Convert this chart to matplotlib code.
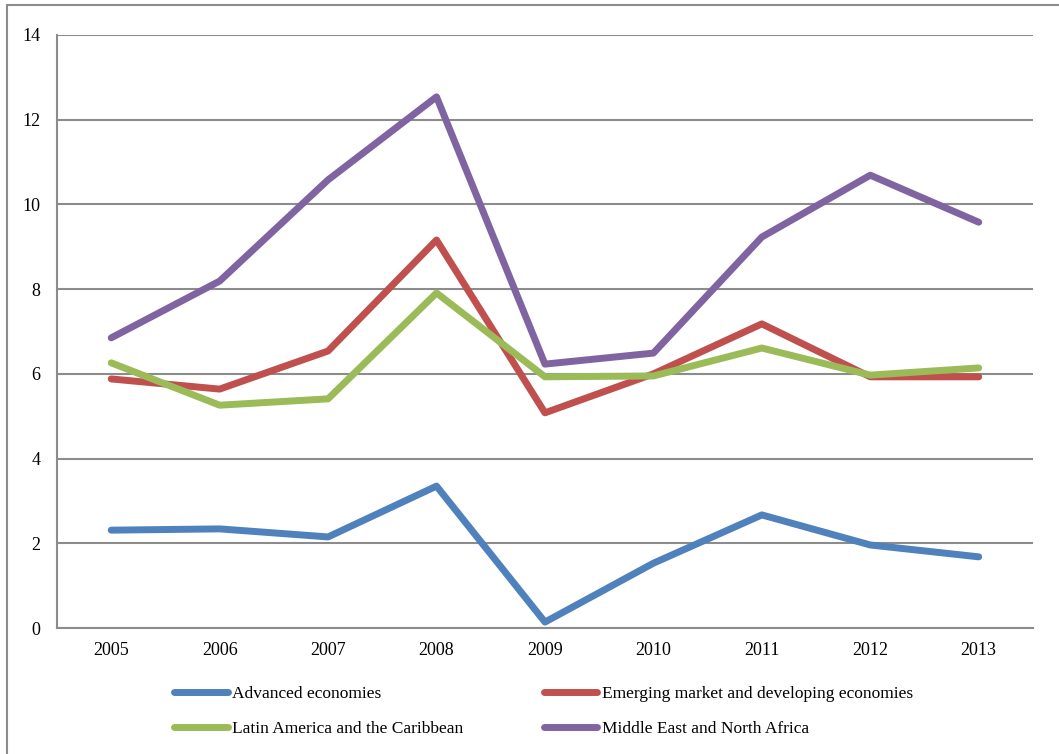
import matplotlib
matplotlib.use("Agg")
import matplotlib.pyplot as plt
import matplotlib.patches as mp
import numpy as np

years = ['2005', '2006', '2007', '2008', '2009', '2010', '2011', '2012', '2013']
advanced = [2.31, 2.34, 2.15, 3.35, 0.14, 1.53, 2.67, 1.96, 1.68]
emerging = [5.88, 5.64, 6.54, 9.16, 5.08, 6.00, 7.18, 5.93, 5.93]
latam = [6.26, 5.26, 5.41, 7.91, 5.93, 5.95, 6.61, 5.97, 6.14]
mena = [6.85, 8.19, 10.58, 12.54, 6.23, 6.49, 9.23, 10.69, 9.58]

names = ['Advanced economies', 'Emerging market and developing economies',
         'Latin America and the Caribbean', 'Middle East and North Africa']
colours = ['#4F81BD', '#C0504D', '#9BBB59', '#8064A2']

plt.rcParams['font.family'] = ['Liberation Serif', 'DejaVu Serif']

fig = plt.figure(figsize=(10.59, 7.54), dpi=100)
ax = fig.add_axes([0.0538, 0.1671, 0.9216, 0.7865])

x = np.arange(len(years))
lines = []
for vals, name, col in zip([advanced, emerging, latam, mena], names, colours):
    ln, = ax.plot(x, vals, color=col, linewidth=5, solid_capstyle='round',
                  solid_joinstyle='round', label=name)
    lines.append(ln)

ax.set_xlim(-0.5, len(years) - 0.5)
ax.set_ylim(0, 14)
ax.set_yticks(range(0, 15, 2))
ax.set_xticks(x)
ax.set_xticklabels(years)
ax.yaxis.grid(True, color='#8c8c8c', linewidth=1.5)
ax.set_axisbelow(True)
ax.tick_params(length=0, labelsize=13, colors='black')
ax.tick_params(axis='y', pad=12)
ax.tick_params(axis='x', pad=10)
for side in ['top', 'right']:
    ax.spines[side].set_visible(False)
for side in ['left', 'bottom']:
    ax.spines[side].set_color('#8c8c8c')
    ax.spines[side].set_linewidth(1.5)

# legend: two columns, filled column-wise
order = [0, 2, 1, 3]
fig.legend([lines[i] for i in order], [names[i] for i in order], ncol=2,
           loc='upper left', bbox_to_anchor=(0.158, 0.1), frameon=False,
           fontsize=12.5, handlelength=3.1, handletextpad=0.25,
           columnspacing=4.6, labelspacing=1.1, borderaxespad=0)

# outer chart frame
fig.patches.append(mp.Rectangle((7 / 1059, -0.1), 1.2, (754 - 5) / 754 + 0.1,
                                transform=fig.transFigure, fill=False,
                                edgecolor='#8c8c8c', linewidth=1.5, clip_on=False))

fig.savefig('out.png', dpi=100)
